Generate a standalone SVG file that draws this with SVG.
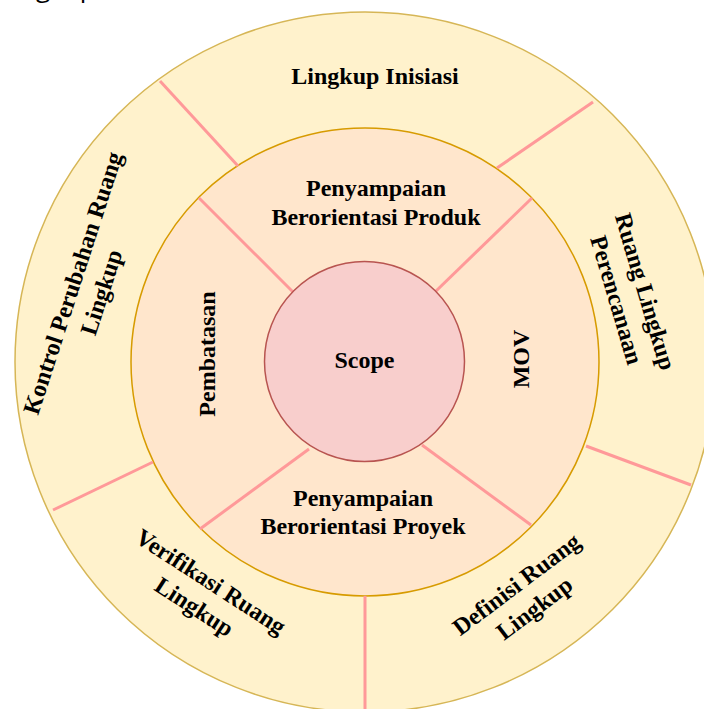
<svg xmlns="http://www.w3.org/2000/svg" width="704" height="709" viewBox="0 0 704 709">
<style>
.lbl{font-family:"Liberation Serif","Times New Roman",serif;font-weight:bold;font-size:24px;fill:#000;text-anchor:middle}
.div{stroke:#FF9999;stroke-width:3;stroke-linecap:butt;fill:none}
</style>
<rect width="704" height="709" fill="#fff"/>
<text x="0" y="-3" font-family="'Open Sans',sans-serif" font-size="26" fill="#000">Lingkup</text>
<g id="ring-outer"><circle cx="365" cy="362" r="350" fill="#FFF2CC" stroke="#D6B656" stroke-width="1.5"/></g>
<g id="ring-middle"><circle cx="365" cy="362" r="234" fill="#FFE6CC" stroke="#D79B00" stroke-width="1.5"/></g>
<g id="connectors">
<line class="div" x1="160" y1="81" x2="238" y2="166"/>
<line class="div" x1="593" y1="102" x2="497" y2="168"/>
<line class="div" x1="586" y1="446" x2="691" y2="485"/>
<line class="div" x1="365" y1="596" x2="365" y2="712"/>
<line class="div" x1="153" y1="462" x2="53" y2="510"/>
<line class="div" x1="199" y1="198" x2="293" y2="292"/>
<line class="div" x1="532" y1="198" x2="435" y2="292"/>
<line class="div" x1="309" y1="449" x2="200" y2="529"/>
<line class="div" x1="422" y1="445" x2="531" y2="525"/>
</g>
<g id="scope"><circle cx="364.5" cy="361.5" r="100" fill="#F8CECC" stroke="#B85450" stroke-width="1.5"/>
<text class="lbl" x="364.5" y="368">Scope</text></g>
<g id="lingkup-inisiasi"><text class="lbl" x="375" y="84">Lingkup Inisiasi</text></g>
<g id="produk"><text class="lbl" x="376" y="196">Penyampaian</text><text class="lbl" x="376" y="224.5">Berorientasi Produk</text></g>
<g id="proyek"><text class="lbl" x="363" y="506">Penyampaian</text><text class="lbl" x="363" y="534">Berorientasi Proyek</text></g>
<g id="pembatasan"><text class="lbl" transform="translate(215,354) rotate(-90)">Pembatasan</text></g>
<g id="mov"><text class="lbl" transform="translate(529,359) rotate(-90)">MOV</text></g>
<g id="kontrol" transform="translate(88,288) rotate(-72)"><text class="lbl" x="0" y="-8">Kontrol Perubahan Ruang</text><text class="lbl" x="0" y="22">Lingkup</text></g>
<g id="perencanaan" transform="translate(630,296) rotate(73.5)"><text class="lbl" x="0" y="-8">Ruang Lingkup</text><text class="lbl" x="0" y="22">Perencanaan</text></g>
<g id="verifikasi" transform="translate(202,595) rotate(33)"><text class="lbl" x="0" y="-8">Verifikasi Ruang</text><text class="lbl" x="0" y="22">Lingkup</text></g>
<g id="definisi" transform="translate(526,597) rotate(-37)"><text class="lbl" x="0" y="-8">Definisi Ruang</text><text class="lbl" x="0" y="22">Lingkup</text></g>
</svg>
